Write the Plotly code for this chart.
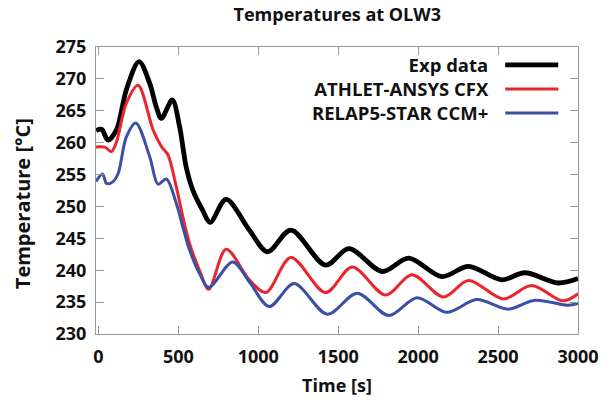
import plotly.graph_objects as go

# ---- data ----
exp_t = [-15, 20, 60, 113, 175, 254, 321, 362, 394, 462, 508, 549, 590, 652, 699,
         799, 944, 1058, 1204, 1421, 1567, 1775, 1941, 2148, 2315, 2522, 2668, 2875, 3000]
exp_v = [261.9, 262.1, 260.4, 262.0, 268.3, 272.7, 269.3, 265.6, 263.8, 266.7, 262.5, 256.2, 252.6, 249.4, 247.5,
         251.1, 246.3, 242.9, 246.3, 240.8, 243.4, 239.8, 241.9, 239.0, 240.6, 238.5, 239.6, 238.0, 238.7]

athlet_t = [-15, 40, 82, 113, 175, 248, 342, 394, 435, 487, 528, 570, 632, 690,
            799, 944, 1048, 1204, 1421, 1588, 1796, 1961, 2159, 2315, 2533, 2709, 2907, 3000]
athlet_v = [259.3, 259.3, 258.6, 260.1, 266.2, 269.0, 262.0, 259.4, 258.1, 253.1, 248.4, 244.2, 240.0, 237.0,
            243.3, 238.5, 236.5, 242.0, 236.5, 240.5, 236.1, 239.3, 235.8, 238.4, 235.5, 237.6, 235.2, 236.3]

relap_t = [-15, 26, 51, 92, 124, 175, 234, 321, 373, 425, 487, 528, 570, 632, 690,
           840, 944, 1069, 1224, 1432, 1619, 1816, 1993, 2180, 2366, 2564, 2730, 2938, 3000]
relap_v = [253.9, 255.1, 253.6, 253.9, 255.2, 260.9, 263.1, 257.8, 253.5, 254.3, 250.5, 246.8, 243.2, 239.5, 237.3,
           241.3, 238.2, 234.3, 237.9, 233.1, 236.4, 232.9, 235.7, 233.4, 235.4, 233.9, 235.3, 234.5, 234.8]

series_names = ["Exp data", "ATHLET-ANSYS CFX", "RELAP5-STAR CCM+"]
series_colors = ["#000000", "#e8262b", "#3a4fa6"]
series_widths = [4.8, 3, 3]

x_ticks = [0, 500, 1000, 1500, 2000, 2500, 3000]
y_ticks = [230, 235, 240, 245, 250, 255, 260, 265, 270, 275]

FONT = "Open Sans"
TXT = "#111111"
LEG_SIZE = 18.5

fig = go.Figure()
for t, v, name, col, w in zip([exp_t, athlet_t, relap_t], [exp_v, athlet_v, relap_v],
                              series_names, series_colors, series_widths):
    fig.add_trace(go.Scatter(x=t, y=v, mode="lines", name=name,
                             line=dict(color=col, width=w, shape="spline", smoothing=0.9),
                             showlegend=False))

# manual legend: one right-aligned multi-line text block, sample lines to the right
plot_h = 406 - 47 - 72
line_step = 1.3 * LEG_SIZE / plot_h
leg_mid = 0.854
fig.add_annotation(xref="paper", yref="paper", x=0.820, y=leg_mid, text="<br>".join(series_names),
                   showarrow=False, xanchor="right", yanchor="middle", align="right",
                   font=dict(family=FONT, size=LEG_SIZE, color=TXT, weight=700))
for i, (col, w) in enumerate(zip(series_colors, series_widths)):
    ly = leg_mid + (1 - i) * line_step
    fig.add_shape(type="line", xref="paper", yref="paper", x0=0.849, x1=0.959, y0=ly, y1=ly,
                  line=dict(color=col, width=w))

# y-axis title as rotated annotation (positioned like the reference)
fig.add_annotation(xref="paper", yref="paper", x=-0.151, y=0.453, text="Temperature [°C]",
                   textangle=-90, showarrow=False, xanchor="center", yanchor="middle",
                   font=dict(family=FONT, size=20, color=TXT, weight=700))

axis_common = dict(showgrid=False, zeroline=False, showline=True, linecolor="#9a9a9a", linewidth=1,
                   mirror="allticks", ticks="inside", ticklen=8, tickcolor="#9a9a9a",
                   tickfont=dict(family=FONT, size=18, color=TXT, weight=700))

fig.update_layout(
    width=611, height=406,
    margin=dict(l=96, r=31, t=47, b=72),
    paper_bgcolor="white", plot_bgcolor="white",
    title=dict(text="Temperatures at OLW3", x=0.552, xanchor="center", y=0.963, yanchor="middle",
               font=dict(family=FONT, size=18, color=TXT, weight=700)),
    xaxis=dict(range=[-15, 3000], tickvals=x_ticks, ticktext=[str(v) for v in x_ticks],
               ticklabelstandoff=6,
               title=dict(text="Time [s]", standoff=12, font=dict(family=FONT, size=18, color=TXT, weight=700)),
               **axis_common),
    yaxis=dict(range=[230, 275], tickvals=y_ticks, ticktext=[str(v) for v in y_ticks],
               ticklabelstandoff=5,
               **axis_common),
)

fig.write_html("out.html")
